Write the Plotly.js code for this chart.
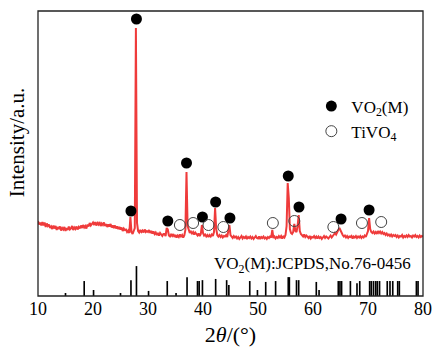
<!DOCTYPE html>
<html>
<head>
<meta charset="utf-8">
<script src="https://cdn.plot.ly/plotly-3.0.1.min.js"></script>
<style>html,body{margin:0;padding:0;background:#fff}#chart{width:434px;height:347px}</style>
</head>
<body>
<div id="chart"></div>
<script>
// XRD scan: start angle, step, intensities (a.u.)
const scanStart = 10;
const scanStep = 0.2;
const intensity = [
250,215,235,205,240, 205,235,190,225,200, 215,180,195,170,205, 175,200,160,190,170,
195,155,180,165,190, 150,180,160,195,165, 175,200,160,185,170, 195,165,190,175,205,
180,210,185,200,175, 215,195,230,205,225, 235,210,240,205,230, 215,240,200,225,210,
235,200,220,190,215, 195,220,185,205,180, 205,175,195,170,190, 165,185,150,175,160,
165,140,155,130,290, 140,120,150,180,2180, 230,150,135,160,140, 155,135,165,140,150,
140,160,130,150,125, 145,120,135,110,130, 105,130,115,100,120, 120,100,180,165,105,
95,115,100,120,90, 110,85,105,90,115, 95,110,85,105,160, 740,200,150,130,145,
125,140,115,135,120, 105,125,100,120,210, 130,105,115,95,110, 90,110,95,115,100,
140,380,170,110,95, 110,90,105,85,100, 95,110,90,150,210, 110,90,80,100,85,
95,75,90,70,85, 100,75,90,80,95, 70,90,80,95,75, 90,70,85,100,80,
75,95,70,90,80, 95,75,85,70,90, 80,95,85,160,80, 95,75,90,80,100,
85,100,75,95,85, 110,200,630,480,170, 130,120,140,220,150, 140,200,310,150,120,
110,95,115,90,105, 95,80,100,75,90, 85,100,80,95,75, 95,80,90,70,85,
100,80,95,85,75, 90,105,85,100,120, 130,115,145,160,180, 150,125,110,95,105,
85,100,80,95,90, 100,75,95,85,100, 80,95,85,100,80, 95,85,105,90,120,
150,280,170,140,130, 145,125,140,120,150, 130,145,125,140,120, 130,110,125,105,115,
100,115,95,110,100, 110,90,105,85,100, 95,110,85,100,90, 105,90,110,95,100,
85,105,95,110,90, 100,85,105,90,100,
95
];
const twoTheta = intensity.map((_, i) => +(scanStart + i * scanStep).toFixed(2));

// VO2(M) peak markers
const vo2Pos = [26.9, 27.9, 33.6, 37.0, 39.9, 42.3, 44.9, 55.5, 57.45, 65.1, 70.2];
const vo2Mark = [350, 2270, 250, 830, 290, 440, 280, 700, 390, 270, 360];
// TiVO4 peak markers
const tivoPos = [35.8, 38.2, 41.0, 43.7, 52.7, 56.6, 63.7, 68.9, 72.4];
const tivoMark = [210, 230, 210, 190, 230, 250, 190, 230, 240];

// Reference pattern VO2(M) JCPDS No.76-0456
const refPos = [15.0,18.4,20.1,25.0,26.9,27.9,30.1,33.5,35.1,37.1,39.0,39.3,39.9,42.3,44.3,44.7,
  48.5,49.9,51.4,53.2,55.5,55.7,57.0,57.4,60.6,61.1,64.6,64.9,65.2,66.8,68.0,68.5,
  70.3,70.6,71.0,71.4,71.7,72.1,73.5,74.0,74.5,75.4,75.7,78.8,79.1];
const refInt = [10,50,20,10,53,100,17,50,10,63,50,50,53,57,53,37,
  50,20,47,50,63,63,53,53,47,20,50,50,50,50,43,50,
  50,50,50,50,50,50,50,50,50,50,50,50,50];

const serif = 'Liberation Serif, Times New Roman, serif';

const traces = [
  {type:'scatter', mode:'lines', x: twoTheta, y: intensity, xaxis:'x', yaxis:'y',
   line:{color:'#ef3b3b', width:2}, showlegend:false, hoverinfo:'skip'},
  {type:'bar', x: refPos, y: refInt, xaxis:'x', yaxis:'y2', width:0.3,
   marker:{color:'#000', line:{width:0}}, showlegend:false},
  {type:'scatter', mode:'markers', name:'VO<sub>2</sub>(M)', x: vo2Pos, y: vo2Mark, yaxis:'y',
   marker:{symbol:'circle', size:11, color:'#000'}},
  {type:'scatter', mode:'markers', name:'TiVO<sub>4</sub>', x: tivoPos, y: tivoMark, yaxis:'y',
   marker:{symbol:'circle-open', size:11, color:'#444', line:{width:1}}}
];

const layout = {
  width:434, height:347,
  margin:{l:38, r:11, t:11, b:51},
  paper_bgcolor:'#fff', plot_bgcolor:'#fff',
  font:{family: serif, size:17, color:'#000'},
  showlegend:true,
  legend:{x:0.71, y:0.728, xanchor:'left', yanchor:'top', bgcolor:'rgba(0,0,0,0)',
    font:{family: serif, size:17, color:'#000'}, tracegroupgap:0},
  xaxis:{anchor:'y2', range:[10,80], dtick:10, tick0:10, ticks:'', showgrid:false, zeroline:false,
    showline:false, tickfont:{family: serif, size:18},
    title:{text:'2<i>θ</i>/(°)', font:{family: serif, size:22}, standoff:9}},
  yaxis:{domain:[0.12,1], range:[-158,2350], showticklabels:false, showgrid:false,
    zeroline:false, ticks:''},
  yaxis2:{domain:[0,0.105], range:[0,100], anchor:'x', showticklabels:false, showgrid:false,
    zeroline:false, ticks:''},
  shapes:[{type:'rect', xref:'paper', yref:'paper', x0:0, x1:1, y0:0, y1:1,
    line:{color:'#222', width:1.3}}],
  annotations:[
    {xref:'paper', yref:'paper', x:0.712, y:0.109, xanchor:'center', yanchor:'middle',
     text:'VO<sub>2</sub>(M):JCPDS,No.76-0456', showarrow:false, font:{family: serif, size:17}},
    {xref:'paper', yref:'paper', x:-0.054, y:0.54, xanchor:'center', yanchor:'middle', textangle:-90,
     text:'Intensity/a.u.', showarrow:false, font:{family: serif, size:21}}
  ]
};

Plotly.newPlot('chart', traces, layout, {displayModeBar:false, staticPlot:true});
</script>
</body>
</html>
